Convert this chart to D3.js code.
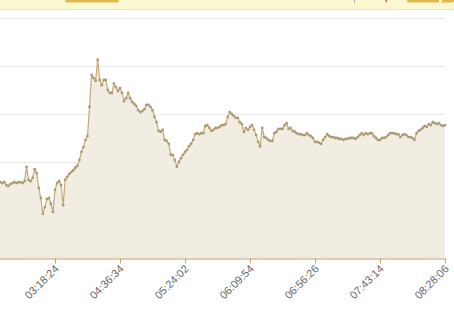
<!DOCTYPE html>
<html><head><meta charset="utf-8">
<script src="https://cdn.jsdelivr.net/npm/d3@7"></script>
<style>
body{margin:0;background:#fff;overflow:hidden}
text{font-family:"Liberation Sans",Arial,sans-serif}
</style>
</head><body>
<svg id="c" width="454" height="323"></svg>
<script>
const values = [
15.8,15.6,15.8,15.4,15.6,15.8,15.6,15.8,15.2,15.0,
15.4,15.6,15.8,15.6,15.8,15.8,15.6,16.0,19.0,16.3,
16.0,16.7,18.5,17.7,14.6,12.5,9.2,10.6,12.3,12.5,
11.3,9.6,14.2,15.6,16.0,15.2,11.0,16.3,16.9,17.5,
17.9,18.3,18.8,19.2,20.4,22.1,23.1,24.6,25.4,31.5,
38.1,37.5,36.9,41.3,37.1,36.0,37.1,37.1,35.0,34.4,
34.4,36.3,35.6,34.8,35.4,34.4,32.7,33.3,34.4,33.3,
32.5,32.1,31.7,30.8,30.4,30.6,31.0,31.9,31.9,31.5,
30.8,29.4,28.3,26.5,26.3,26.7,24.6,24.4,23.8,21.5,
21.5,20.4,19.0,20.0,20.8,21.5,22.1,22.5,23.3,23.8,
24.6,25.8,26.0,25.8,26.0,26.0,27.5,27.7,27.1,26.5,
26.7,27.1,27.1,27.3,27.7,27.7,27.9,29.4,30.4,30.0,
29.6,29.2,29.2,28.3,27.9,26.3,27.1,26.7,27.3,27.7,
26.7,25.6,24.2,23.3,27.1,25.2,25.0,24.6,24.4,24.4,
26.0,26.3,26.9,26.9,26.9,27.7,28.1,26.9,27.1,26.5,
26.3,26.0,25.8,25.8,25.6,25.6,26.0,25.6,25.4,25.0,
24.2,24.2,24.0,23.8,24.6,25.2,25.8,25.4,25.2,25.2,
25.0,25.0,24.8,24.8,24.6,24.8,24.8,25.0,25.0,25.0,
24.8,25.2,25.6,26.0,25.6,26.0,25.8,26.0,26.0,25.4,
25.0,24.6,24.6,25.0,25.0,25.2,25.6,26.0,26.0,26.0,
25.8,25.8,25.2,25.6,25.8,25.6,25.2,25.2,25.0,24.6,
26.0,26.5,26.7,27.1,27.5,27.3,27.9,27.7,28.3,28.1,
27.9,28.1,27.7,27.5,27.7
];
const tickIndices = [32, 64, 96, 128, 160, 192, 224];
const tickLabels = ["03:18:24","04:36:34","05:24:02","06:09:54","06:56:26","07:43:14","08:28:06"];
const yTicks = [0, 10, 20, 30, 40, 50];

const svg = d3.select("#c");

// top banner (page chrome)
svg.append("rect").attr("x",0).attr("y",0).attr("width",454).attr("height",9).attr("fill","#fcf8d2");
svg.append("line").attr("x1",0).attr("x2",454).attr("y1",9.5).attr("y2",9.5).attr("stroke","#efe5a6");
svg.append("path").attr("d","M65,0H119V0.5a2,2 0 0 1 -2,2H67a2,2 0 0 1 -2,-2Z").attr("fill","#e0b84c");
svg.append("path").attr("d","M407,0H454V0.5a2,2 0 0 1 -2,2H409a2,2 0 0 1 -2,-2Z").attr("fill","#e0b84c");
svg.append("rect").attr("x",354).attr("y",0).attr("width",1).attr("height",3).attr("fill","#aaa");
svg.append("rect").attr("x",385.5).attr("y",0).attr("width",1.5).attr("height",2).attr("fill","#b76b50");
svg.append("rect").attr("x",439).attr("y",0).attr("width",3).attr("height",2).attr("fill","#fff");

const x = d3.scaleLinear().domain([0, values.length - 1]).range([-10, 445]);
const y = d3.scaleLinear().domain([0, 50]).range([258, 18]);

svg.append("g").selectAll("line").data(yTicks).join("line")
  .attr("x1", 0).attr("x2", 445)
  .attr("y1", d => Math.round(y(d)) + 0.5).attr("y2", d => Math.round(y(d)) + 0.5)
  .attr("stroke", "#e9e9e9").attr("stroke-width", 1);

const area = d3.area().x((d, i) => x(i)).y0(y(0)).y1(d => y(d));
const line = d3.line().x((d, i) => x(i)).y(d => y(d));

svg.append("path").datum(values).attr("d", area).attr("fill", "#f2ede2");
svg.append("path").datum(values).attr("d", line).attr("fill", "none")
  .attr("stroke", "#c6a873").attr("stroke-width", 1.2);
svg.append("g").selectAll("circle").data(values).join("circle")
  .attr("cx", (d, i) => x(i)).attr("cy", d => y(d)).attr("r", 1.4)
  .attr("fill", "#a99a72");

const ax = svg.append("g").attr("transform", `translate(0,${Math.round(y(0)) + 0.5})`)
  .call(d3.axisBottom(x).tickValues(tickIndices).tickFormat((d, i) => tickLabels[i]).tickSize(5).tickSizeOuter(0));
ax.select(".domain").attr("stroke", "#c9a56a");
ax.selectAll(".tick line").attr("stroke", "#c9a56a");
ax.selectAll(".tick text")
  .attr("x", 0).attr("y", 0).attr("dy", 0)
  .attr("text-anchor", "end")
  .attr("transform", "translate(4,11) rotate(-45)")
  .attr("fill", "#666").attr("font-size", 11);
</script>
</body></html>
